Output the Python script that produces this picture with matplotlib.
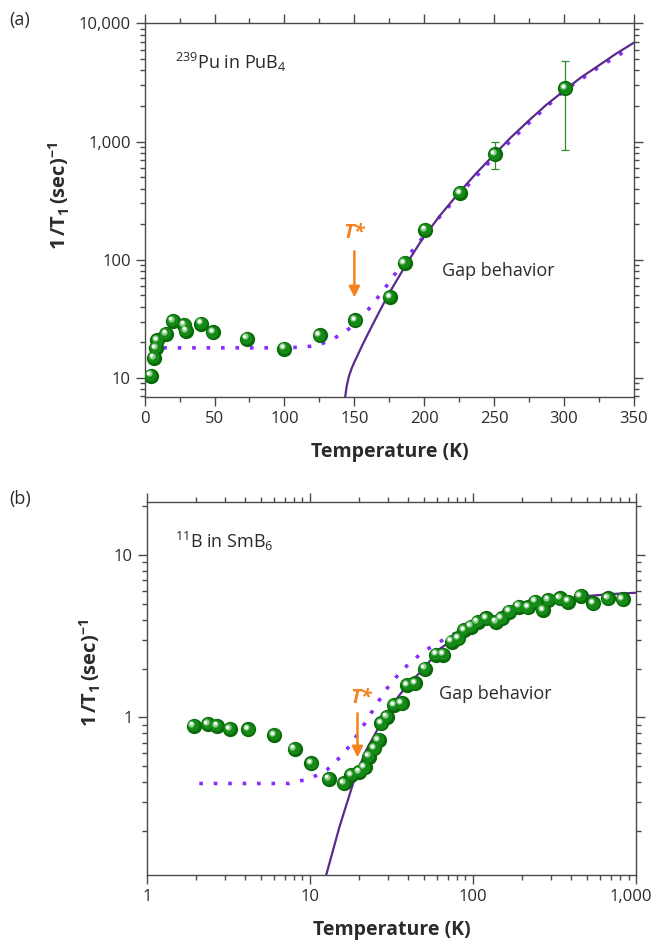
import matplotlib
matplotlib.use("Agg")
import matplotlib.pyplot as plt
from matplotlib.ticker import FixedLocator, NullFormatter, LogLocator, FuncFormatter, MultipleLocator
from matplotlib.transforms import offset_copy, ScaledTranslation

plt.rcParams['font.family'] = ['Open Sans', 'DejaVu Sans']
plt.rcParams['mathtext.fontset'] = 'custom'
plt.rcParams['mathtext.rm'] = 'Open Sans'
plt.rcParams['mathtext.it'] = 'Open Sans:italic'
plt.rcParams['mathtext.bf'] = 'Open Sans:bold'
plt.rcParams['mathtext.default'] = 'regular'

# ---------------- data: (a) 239Pu in PuB4 ----------------
pu_T = [4.5, 6.6, 8.1, 9.0, 15.3, 20.1, 28.5, 29.7, 40.5, 48.9, 73.2, 99.9, 125.1, 150.6, 175.5, 186.0, 200.7, 225.6, 250.5, 300.9]
pu_rate = [10.5, 14.8, 17.9, 20.8, 23.6, 30.5, 28.2, 25.1, 28.8, 24.3, 21.5, 17.7, 23.0, 30.7, 48.3, 93.7, 179, 366, 781, 2826]
pu_err_T = [250.5, 300.9]
pu_err_rate = [781, 2826]
pu_err_low = [193, 1971]
pu_err_high = [205, 1982]

pu_gap_T = [143.4, 144.5, 146, 148, 150, 153, 156, 160, 165, 170, 175, 180, 186, 193, 200, 212, 225, 237, 250,
            262, 275, 287, 300, 312, 325, 337, 350]
pu_gap_rate = [6.87, 8.51, 10.23, 12.02, 13.65, 16.2, 19.3, 24.0, 31.3, 40.7, 52.5, 66.1, 87.1, 118, 158.5, 243,
               371.5, 537, 776, 1086, 1514, 2032, 2692, 3483, 4416, 5521, 6871]

pu_fit_T = [3, 20, 40, 60, 80, 100, 115, 125, 135, 142, 150, 160, 170, 180, 190, 200, 210, 225, 250, 275, 300, 325, 345]
pu_fit_rate = [18, 18, 18, 18, 18, 18, 18.3, 19.1, 21.5, 24, 28.2, 38, 53.7, 78.5, 113.5, 160, 224, 355, 741, 1445, 2690, 4270, 5960]

# ---------------- data: (b) 11B in SmB6 ----------------
b_T = [1.94, 2.37, 2.70, 3.23, 4.19, 6.05, 8.08, 10.2, 13.1, 16.2, 18.0, 20.1, 21.7, 23.0, 24.9, 26.4, 27.5, 29.7,
       32.9, 36.6, 39.7, 44.2, 50.7, 59.5, 65.8, 74.0, 81.3, 88.3, 97, 107, 121, 138, 150, 167, 191, 218, 241, 269,
       290, 341, 383, 458, 547, 673, 828]
b_rate = [0.889, 0.91, 0.889, 0.848, 0.844, 0.778, 0.641, 0.521, 0.419, 0.392, 0.441, 0.463, 0.492, 0.573, 0.644,
          0.725, 0.918, 1.01, 1.19, 1.22, 1.58, 1.62, 2.0, 2.44, 2.44, 2.93, 3.07, 3.45, 3.62, 3.88, 4.07, 3.88, 4.07,
          4.48, 4.81, 4.76, 5.16, 4.58, 5.29, 5.41, 5.16, 5.59, 5.04, 5.41, 5.33]

b_gap_T = [12.6, 15.2, 18.7, 22, 25.9, 30, 34.8, 40, 46.9, 55, 63.1, 75, 84.8, 100, 114, 153, 200, 277, 400, 500, 700, 1000]
b_gap_rate = [0.107, 0.212, 0.411, 0.62, 0.836, 1.08, 1.34, 1.6, 1.87, 2.25, 2.66, 3.0, 3.29, 3.6, 3.88, 4.37, 4.75,
              5.16, 5.45, 5.59, 5.75, 5.86]

b_fit_T = [2.1, 4, 7.5, 10.1, 12.7, 16.2, 20.5, 24.4, 29.1, 36.8, 49.5, 70.7, 114, 204, 369, 794]
b_fit_rate = [0.392, 0.392, 0.392, 0.421, 0.474, 0.6, 0.836, 1.11, 1.47, 1.96, 2.54, 3.14, 3.95, 4.7, 5.2, 5.41]

# ---------------- style ----------------
SPINE = '#4a4a4a'
TXT = '#2b2b2b'
GAPC = '#5a2a8c'
FITC = '#8a2cff'
ORANGE = '#f58220'
GREEN_DARK = '#0a6a0a'
GREEN = '#168a16'
YLABEL = r'$\mathbf{1\,/T_{1}\,(sec)^{-1}}$'

fig = plt.figure(figsize=(6.55, 9.41), dpi=100)
axA = fig.add_axes([0.2208, 0.5778, 0.7472, 0.3974])
axB = fig.add_axes([0.2240, 0.0701, 0.7470, 0.3967])


def spheres(ax, x, y):
    ax.plot(x, y, 'o', ms=11, color=GREEN_DARK, mec='none', zorder=5)
    t1 = offset_copy(ax.transData, fig=fig, x=-0.5, y=0.5, units='points')
    ax.plot(x, y, 'o', ms=8.5, color=GREEN, mec='none', zorder=6, transform=t1)
    t2 = offset_copy(ax.transData, fig=fig, x=-1.6, y=1.6, units='points')
    ax.plot(x, y, 'o', ms=4.5, color='#8fcf8f', mec='none', zorder=7, transform=t2)
    t3 = offset_copy(ax.transData, fig=fig, x=-1.8, y=1.8, units='points')
    ax.plot(x, y, 'o', ms=2.4, color='white', mec='none', zorder=8, transform=t3)


def style_axes(ax):
    for s in ax.spines.values():
        s.set_color(SPINE)
        s.set_linewidth(1.0)
    ax.tick_params(which='both', direction='out', top=True, right=True, colors=SPINE,
                   labelcolor=TXT, labelsize=12, width=1.0)
    ax.tick_params(which='major', length=6.5)
    ax.tick_params(which='minor', length=3.5)
    ax.tick_params(labeltop=False, labelright=False)


comma = FuncFormatter(lambda v, p: f'{v:,.0f}')

# ---- panel (a) ----
axA.set_yscale('log')
axA.set_xlim(0, 350)
axA.set_ylim(6.87, 10000)
axA.plot(pu_fit_T, pu_fit_rate, color=FITC, lw=2.6, ls=(0, (1, 3.0)), zorder=3)
axA.plot(pu_gap_T, pu_gap_rate, color=GAPC, lw=1.6, zorder=4, clip_on=True)
axA.errorbar(pu_err_T, pu_err_rate, yerr=[pu_err_low, pu_err_high], fmt='none', ecolor='#2e8b2e',
             elinewidth=0.9, capsize=3, capthick=0.9, zorder=4)
spheres(axA, pu_T, pu_rate)
axA.xaxis.set_major_locator(MultipleLocator(50))
axA.xaxis.set_minor_locator(MultipleLocator(25))
axA.yaxis.set_major_locator(LogLocator(base=10, numticks=10))
axA.yaxis.set_minor_locator(LogLocator(base=10, subs=range(2, 10), numticks=20))
axA.yaxis.set_major_formatter(comma)
axA.yaxis.set_minor_formatter(NullFormatter())
style_axes(axA)
axA.set_xlabel('Temperature (K)', fontsize=14, fontweight='bold', color=TXT, labelpad=11)
axA.set_ylabel(YLABEL, fontsize=14.5, color=TXT)
axA.yaxis.set_label_coords(-0.148, 0.538)
axA.text(21.7, 4624, r'$^{239}$Pu in PuB$_4$', fontsize=13, color=TXT, va='center')
axA.text(213, 80, 'Gap behavior', fontsize=13, color=TXT, va='center')
axA.text(150, 168, 'T*', fontsize=14.5, color=ORANGE, fontweight='bold', fontstyle='italic', ha='center', va='center')
axA.annotate('', xy=(150, 48), xytext=(150, 118),
             arrowprops=dict(arrowstyle='-|>', color=ORANGE, lw=1.8, mutation_scale=16, shrinkA=0, shrinkB=0))

# ---- panel (b) ----
axB.set_xscale('log')
axB.set_yscale('log')
axB.set_xlim(1, 1000)
axB.set_ylim(0.107, 21.3)
axB.plot(b_fit_T, b_fit_rate, color=FITC, lw=2.6, ls=(0, (1, 3.0)), zorder=3)
axB.plot(b_gap_T, b_gap_rate, color=GAPC, lw=1.6, zorder=4)
spheres(axB, b_T, b_rate)
axB.xaxis.set_major_locator(FixedLocator([1, 10, 100, 1000]))
axB.xaxis.set_minor_locator(LogLocator(base=10, subs=range(2, 10), numticks=20))
axB.xaxis.set_major_formatter(comma)
axB.xaxis.set_minor_formatter(NullFormatter())
axB.yaxis.set_major_locator(FixedLocator([1, 10]))
axB.yaxis.set_minor_locator(LogLocator(base=10, subs=range(2, 10), numticks=20))
axB.yaxis.set_major_formatter(comma)
axB.yaxis.set_minor_formatter(NullFormatter())
style_axes(axB)
axB.set_xlabel('Temperature (K)', fontsize=14, fontweight='bold', color=TXT, labelpad=11)
axB.set_ylabel(YLABEL, fontsize=14.5, color=TXT)
axB.yaxis.set_label_coords(-0.09, 0.541)
axB.text(1.49, 12.1, r'$^{11}$B in SmB$_6$', fontsize=13, color=TXT, va='center')
axB.text(62, 1.39, 'Gap behavior', fontsize=13, color=TXT, va='center')
axB.text(20.5, 1.31, 'T*', fontsize=14.5, color=ORANGE, fontweight='bold', fontstyle='italic', ha='center', va='center')
axB.annotate('', xy=(19.6, 0.567), xytext=(19.6, 1.06),
             arrowprops=dict(arrowstyle='-|>', color=ORANGE, lw=1.8, mutation_scale=16, shrinkA=0, shrinkB=0))

fig.text(9 / 655, 1 - 20 / 941, '(a)', fontsize=13, color=TXT, va='center')
fig.text(9 / 655, 1 - 499 / 941, '(b)', fontsize=13, color=TXT, va='center')

fig.canvas.draw()
shift = ScaledTranslation(-4 / 72, 0, fig.dpi_scale_trans)
for lab in axB.get_xticklabels():
    if lab.get_text() == '1,000':
        lab.set_transform(lab.get_transform() + shift)

fig.savefig('out.png', dpi=100)
